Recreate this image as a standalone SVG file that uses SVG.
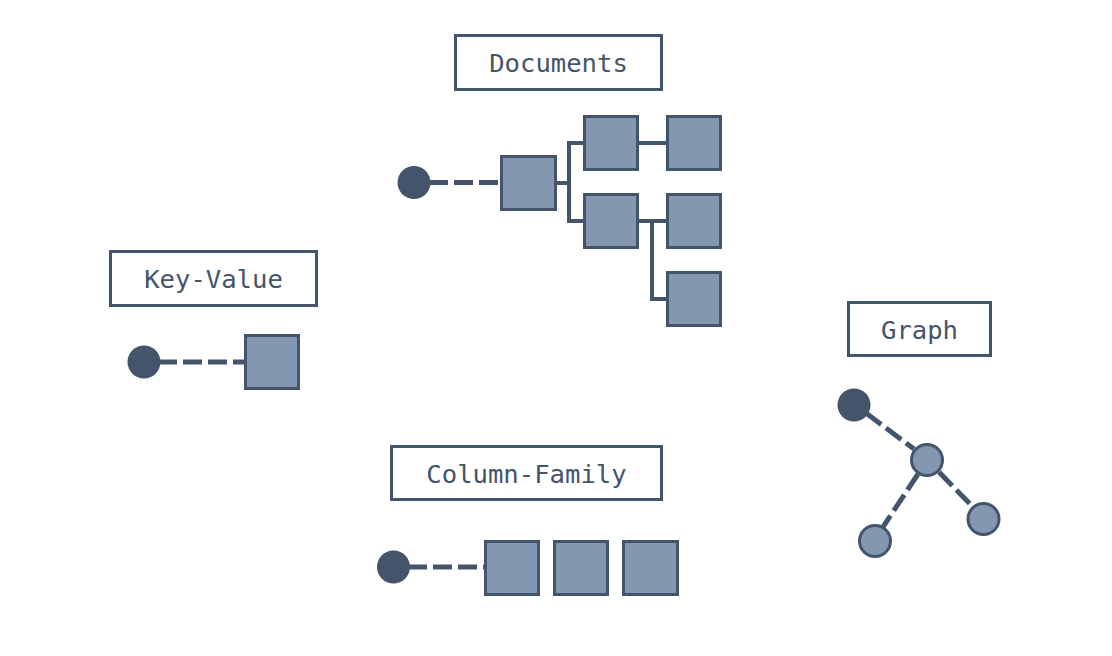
<svg xmlns="http://www.w3.org/2000/svg" width="1112" height="656" viewBox="0 0 1112 656">
  <style>
    .label rect { fill: #ffffff; stroke: #44546a; stroke-width: 3; }
    .label text { font-family: "DejaVu Sans Mono", "Liberation Mono", monospace; font-size: 25.6px; fill: #44546a; text-anchor: middle; }
    .item { fill: #8497b0; stroke: #44546a; stroke-width: 3; }
    .key { fill: #44546a; }
    .vertex { fill: #8497b0; stroke: #44546a; stroke-width: 3; }
    .dash { stroke: #44546a; stroke-width: 5; fill: none; stroke-dasharray: 19 6; }
    .link { stroke: #44546a; stroke-width: 4; fill: none; }
  </style>
  <rect width="1112" height="656" fill="#ffffff"/>

  <!-- connectors -->
  <g id="connectors">
    <!-- documents -->
    <line class="dash" x1="429" y1="182.5" x2="501" y2="182.5"/>
    <polyline class="link" points="555,183 569,183"/>
    <polyline class="link" points="584,143 569,143 569,221 584,221"/>
    <line class="link" x1="638" y1="143" x2="667" y2="143"/>
    <line class="link" x1="638" y1="221" x2="667" y2="221"/>
    <polyline class="link" points="652,221 652,299 667,299"/>
    <!-- key-value -->
    <line class="dash" x1="158" y1="362" x2="245" y2="362"/>
    <!-- column-family -->
    <line class="dash" x1="408" y1="567" x2="485" y2="567"/>
    <!-- graph -->
    <line class="dash" x1="866" y1="413" x2="914" y2="449"/>
    <line class="dash" x1="918" y1="474" x2="883" y2="527"/>
    <line class="dash" x1="939" y1="472" x2="972" y2="506"/>
  </g>

  <!-- documents -->
  <g id="documents-label" class="label">
    <rect x="455.5" y="35.5" width="206" height="54"/>
    <text x="558.5" y="72">Documents</text>
  </g>
  <g id="documents">
    <circle class="key" cx="414" cy="182.5" r="16.5"/>
    <rect class="item" x="501.5" y="156.5" width="54" height="53"/>
    <rect class="item" x="584.5" y="116.5" width="53" height="53"/>
    <rect class="item" x="667.5" y="116.5" width="53" height="53"/>
    <rect class="item" x="584.5" y="194.5" width="53" height="53"/>
    <rect class="item" x="667.5" y="194.5" width="53" height="53"/>
    <rect class="item" x="667.5" y="272.5" width="53" height="53"/>
  </g>

  <!-- key-value -->
  <g id="key-value-label" class="label">
    <rect x="110.5" y="251.5" width="206" height="54"/>
    <text x="213.5" y="288">Key-Value</text>
  </g>
  <g id="key-value">
    <circle class="key" cx="144" cy="362" r="16.5"/>
    <rect class="item" x="245.5" y="335.5" width="53" height="53"/>
  </g>

  <!-- column-family -->
  <g id="column-family-label" class="label">
    <rect x="391.5" y="446.5" width="270" height="53"/>
    <text x="526.5" y="482.5">Column-Family</text>
  </g>
  <g id="column-family">
    <circle class="key" cx="393.5" cy="567" r="16.5"/>
    <rect class="item" x="485.5" y="541.5" width="53" height="53"/>
    <rect class="item" x="554.5" y="541.5" width="53" height="53"/>
    <rect class="item" x="623.5" y="541.5" width="54" height="53"/>
  </g>

  <!-- graph -->
  <g id="graph-label" class="label">
    <rect x="848.5" y="302.5" width="142" height="53"/>
    <text x="919.5" y="339">Graph</text>
  </g>
  <g id="graph">
    <circle class="key" cx="854" cy="405" r="16.5"/>
    <circle class="vertex" cx="927" cy="460" r="15.5"/>
    <circle class="vertex" cx="875" cy="541" r="15.5"/>
    <circle class="vertex" cx="983.5" cy="519" r="15.5"/>
  </g>
</svg>
